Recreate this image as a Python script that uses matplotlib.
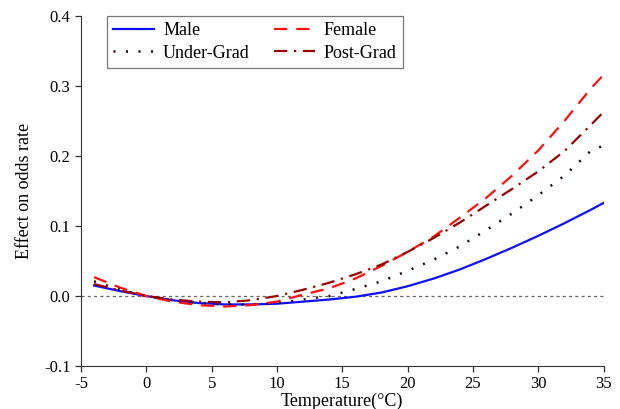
import matplotlib
matplotlib.use('Agg')
import matplotlib.pyplot as plt

plt.rcParams['font.family'] = ['Liberation Serif', 'DejaVu Serif']
plt.rcParams['axes.unicode_minus'] = False

temp = [-4, -2, 0, 2, 4, 6, 8, 10, 12, 14, 16, 18, 20, 22, 24, 26, 28, 30, 32, 34, 35]
male = [0.015, 0.007, 0.0, -0.006, -0.010, -0.012, -0.012, -0.011, -0.008, -0.005, -0.001,
        0.005, 0.014, 0.025, 0.038, 0.053, 0.069, 0.086, 0.104, 0.123, 0.133]
female = [0.027, 0.012, 0.0, -0.008, -0.013, -0.015, -0.013, -0.008, 0.002, 0.011, 0.025,
          0.043, 0.063, 0.085, 0.112, 0.140, 0.172, 0.208, 0.250, 0.296, 0.316]
under_grad = [0.021, 0.009, 0.0, -0.006, -0.010, -0.012, -0.012, -0.010, -0.005, 0.0, 0.010,
              0.021, 0.036, 0.052, 0.071, 0.094, 0.118, 0.144, 0.172, 0.207, 0.215]
post_grad = [0.017, 0.008, 0.0, -0.005, -0.008, -0.009, -0.006, 0.0, 0.009, 0.019, 0.031,
             0.045, 0.063, 0.083, 0.105, 0.129, 0.153, 0.178, 0.207, 0.244, 0.263]

fig = plt.figure(figsize=(6.2, 4.09), dpi=100)
ax = fig.add_axes([0.1306, 0.105, 0.843, 0.856])

ax.axhline(0, color='#666666', lw=0.9, ls=(0, (2.5, 2.5)), zorder=1)
# plotting order gives the legend rows Male/Female, Under-Grad/Post-Grad
ax.plot(temp, male, color='#1010ff', lw=1.6, ls='-', label='Male')
ax.plot(temp, under_grad, color='#200808', lw=1.8, ls=(0, (0.8, 4.2)), label='Under-Grad')
ax.plot(temp, female, color='#ff1010', lw=1.6, ls=(0, (6, 4)), label='Female')
ax.plot(temp, post_grad, color='#990000', lw=1.6, ls=(0, (6, 3, 1, 3)), label='Post-Grad')

ax.set_xlim(-5, 35)
ax.set_ylim(-0.1, 0.4)
ax.set_xticks([-5, 0, 5, 10, 15, 20, 25, 30, 35])
ax.set_yticks([-0.1, 0.0, 0.1, 0.2, 0.3, 0.4])
ax.set_yticklabels(['-0.1', '0.0', '0.1', '0.2', '0.3', '0.4'])
ax.tick_params(direction='out', length=4, width=0.9, labelsize=12, colors='#333333', labelcolor='black')
ax.spines['top'].set_visible(False)
ax.spines['right'].set_visible(False)
ax.spines['left'].set_color('#333333')
ax.spines['bottom'].set_color('#333333')
ax.set_xlabel('Temperature(°C)', fontsize=13, labelpad=0)
ax.set_ylabel('Effect on odds rate', fontsize=13, labelpad=8)

leg = ax.legend(loc='upper left', bbox_to_anchor=(0.05, 1.0), ncol=2, fontsize=13,
                frameon=True, fancybox=False, edgecolor='#555555', handlelength=2.25,
                columnspacing=1.35, borderpad=0.35, labelspacing=0.3, handletextpad=0.5,
                borderaxespad=0)
leg.get_frame().set_linewidth(0.9)

fig.savefig('out.png', dpi=100)
